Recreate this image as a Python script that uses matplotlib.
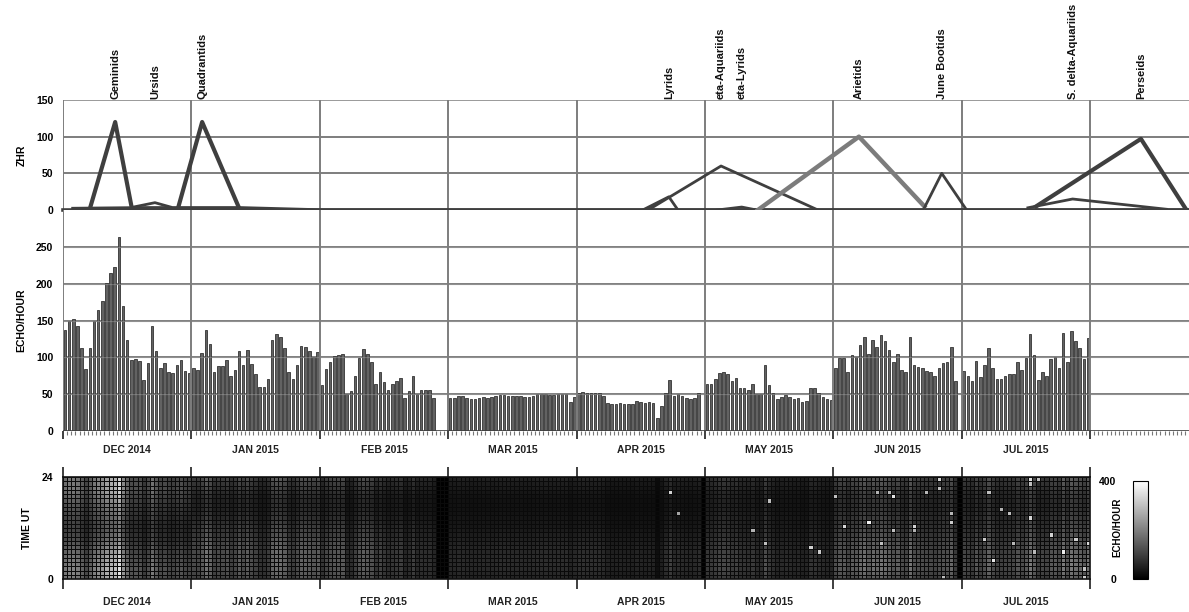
import numpy as np
import matplotlib.pyplot as plt
from matplotlib.transforms import blended_transform_factory

plt.rcParams['font.family'] = ['Liberation Sans', 'DejaVu Sans']
plt.rcParams['font.weight'] = 'bold'

# ---------- data ----------
MONTHS = ["DEC 2014", "JAN 2015", "FEB 2015", "MAR 2015",
          "APR 2015", "MAY 2015", "JUN 2015", "JUL 2015"]

# daily echo rate (echo/hour), one list per month
echo_dec = [137, 150, 152, 143, 113, 84, 113, 149, 164, 177, 201, 215, 222, 264, 170, 124,
            96, 98, 95, 69, 92, 142, 109, 86, 92, 80, 79, 90, 97, 82, 79]
echo_jan = [86, 83, 106, 137, 118, 80, 88, 88, 97, 75, 83, 109, 90, 110, 91, 77,
            60, 60, 71, 123, 131, 128, 113, 80, 71, 90, 115, 114, 109, 101, 107]
echo_feb = [63, 84, 94, 102, 103, 104, 50, 54, 75, 99, 111, 104, 94, 64, 80, 66,
            56, 64, 68, 72, 45, 54, 74, 50, 56, 55, 55, 45]
echo_mar = [45, 45, 47, 47, 45, 44, 44, 45, 46, 45, 46, 47, 49, 49, 48, 48,
            47, 47, 46, 46, 48, 50, 50, 50, 49, 49, 50, 50, 50, 40, 46]
echo_apr = [52, 53, 52, 52, 52, 51, 47, 38, 37, 37, 38, 37, 37, 37, 41, 40,
            38, 40, 38, 17, 34, 51, 69, 47, 50, 47, 45, 43, 45, 51]
echo_may = [64, 64, 70, 79, 80, 78, 68, 72, 59, 59, 55, 64, 50, 50, 89, 63,
            52, 43, 46, 49, 46, 43, 45, 40, 41, 58, 58, 51, 46, 43, 42]
echo_jun = [85, 99, 99, 80, 103, 101, 117, 128, 104, 123, 114, 130, 122, 110, 94, 104,
            83, 80, 128, 90, 87, 85, 82, 80, 75, 86, 92, 93, 114, 68]
echo_jul = [82, 75, 68, 95, 73, 90, 113, 85, 71, 71, 75, 77, 78, 94, 83, 99,
            132, 103, 69, 80, 75, 98, 100, 85, 133, 94, 136, 122, 113, 98, 126]
ECHO = [echo_dec, echo_jan, echo_feb, echo_mar, echo_apr, echo_may, echo_jun, echo_jul]

# relative diurnal shape of the hourly rate (hour 0..23), read per month
diurnal_dec = [1.3, 1.35, 1.35, 1.3, 1.25, 1.2, 1.1, 1.0, 0.9, 0.8, 0.75, 0.7,
               0.7, 0.7, 0.75, 0.8, 0.85, 0.9, 1.0, 1.1, 1.2, 1.25, 1.25, 1.25]
diurnal_jan = [1.2, 1.25, 1.3, 1.35, 1.35, 1.3, 1.3, 1.25, 1.2, 1.1, 1.0, 0.95,
               0.9, 0.8, 0.7, 0.65, 0.6, 0.6, 0.6, 0.65, 0.75, 0.85, 0.95, 1.1]
diurnal_spring = [1.2, 1.3, 1.4, 1.45, 1.45, 1.4, 1.35, 1.3, 1.2, 1.1, 1.0, 0.9,
                  0.8, 0.75, 0.7, 0.65, 0.6, 0.6, 0.6, 0.65, 0.75, 0.85, 0.95, 1.1]
diurnal_summer = [1.2, 1.3, 1.4, 1.45, 1.4, 1.35, 1.3, 1.25, 1.2, 1.1, 1.0, 0.95,
                  0.9, 0.85, 0.8, 0.75, 0.7, 0.7, 0.7, 0.75, 0.8, 0.9, 1.0, 1.1]
DIURNAL = [diurnal_dec, diurnal_jan, diurnal_jan, diurnal_spring,
           diurnal_spring, diurnal_summer, diurnal_summer, diurnal_summer]

# isolated bright cells: (day slot, hour, echo/hour)
hot_slot = [146, 148, 166, 169, 170,
            180, 182, 186, 188, 194, 196, 197, 199, 200, 200, 205, 205, 208, 211, 211,
            212, 214, 214,
            222, 223, 224, 226, 228, 229, 233, 233, 233, 234, 235, 238, 241, 244, 246,
            246, 247]
hot_hour = [20, 15, 11, 8, 18,
            7, 6, 19, 12, 13, 20, 8, 20, 19, 11, 12, 11, 20, 23, 21,
            0, 15, 13,
            9, 20, 4, 16, 15, 8, 23, 22, 14, 6, 23, 10, 6, 9, 2,
            0, 8]
hot_val = [330, 260, 280, 300, 300,
           330, 320, 300, 340, 380, 280, 300, 290, 360, 300, 330, 280, 290, 330, 300,
           300, 290, 320,
           320, 300, 360, 280, 300, 290, 350, 300, 340, 290, 300, 330, 370, 320, 300,
           320, 340]

# ZHR of the showers: day slot (0 = 1 Dec 2014, 31 slots per month) and rate
showers = {
    "Geminids": ([6.5, 12.6, 16.6], [2, 120, 3]),
    "Ursids": ([17, 22.2, 26], [4, 10, 4]),
    "Quadrantids": ([27.8, 33.6, 42.5], [3, 120, 3]),
    "Lyrids": ([140, 146.3, 148.5], [0, 18, 0]),
    "eta-Aquariids": ([141.3, 158.9, 182.3], [0, 60, 0]),
    "eta-Lyrids": ([158, 163.9, 167.5], [0, 4, 0]),
    "Arietids": ([167.8, 192.2, 208], [0, 100, 5]),
    "June Bootids": ([208, 212.2, 218.2], [3, 50, 0]),
    "S. delta-Aquariids": ([233, 243.8, 266.5], [3, 15, 1]),
    "Perseids": ([235, 260.3, 271.3], [5, 97, 0]),
}
background_days = [2.4, 20, 42.5, 62, 271.8]
background_zhr = [2, 3, 3, 0, 0]

# ---------- layout ----------
W, H = 1189, 612
SLOT = 1027.0 / 248  # pixels per day slot
NM = len(MONTHS)
month_edges = np.arange(NM + 1) * 31
month_mid = np.arange(NM) * 31 + 15.5
xmax = (W - 63) / SLOT

fig = plt.figure(figsize=(W / 100, H / 100), dpi=100)
ax_z = fig.add_axes([63 / W, 1 - 210 / H, (W - 63) / W, 110 / H])
ax_b = fig.add_axes([63 / W, 1 - 431 / H, (W - 63) / W, 221 / H])
ax_h = fig.add_axes([63 / W, 1 - 579 / H, 1027 / W, 102 / H])
cax = fig.add_axes([1133 / W, 1 - 579 / H, 15 / W, 98 / H])

GRID = '#7d7d7d'
DARK = '#3f3f3f'

# ---------- ZHR panel ----------
for a in (ax_z, ax_b):
    a.set_xlim(0, xmax)
    for s in a.spines.values():
        s.set_visible(False)
    for x in month_edges:
        a.axvline(x, color=GRID, lw=1.4, zorder=4)

ax_z.set_ylim(0, 150)
for y in (50, 100):
    ax_z.axhline(y, color=GRID, lw=1.4, zorder=1)
ax_z.axhline(150, color='#9a9a9a', lw=1.4, zorder=1)
ax_z.plot([0, xmax], [0, 0], color=DARK, lw=2.6, zorder=5, clip_on=False)
ax_z.plot(background_days, background_zhr, color=DARK, lw=2.4, zorder=5, clip_on=False)
for name, (xs, zs) in showers.items():
    if name == "Arietids":
        ax_z.plot(xs, zs, color='#7c7c7c', lw=3.2, zorder=6, clip_on=False)
    else:
        lw = 3.0 if max(zs) >= 90 else 2.0
        ax_z.plot(xs, zs, color=DARK, lw=lw, zorder=6, clip_on=False)
    ax_z.text(xs[1], 152, name, rotation=90, ha='center', va='bottom',
              fontsize=8, fontweight='bold', color='#111111')
ax_z.set_xticks([])
ax_z.set_yticks([0, 50, 100, 150])
ax_z.tick_params(axis='y', length=0, pad=7, labelsize=7.5)
ax_z.set_ylabel("ZHR", fontsize=7.5, fontweight='bold', labelpad=7)

# ---------- echo bar panel ----------
ax_b.set_ylim(0, 300)
for y in (50, 100, 150, 200, 250):
    ax_b.axhline(y, color=GRID, lw=1.4, zorder=1)
for m, vals in enumerate(ECHO):
    xs = m * 31 + np.arange(len(vals)) + 0.5
    ax_b.bar(xs, vals, width=0.62, color='#626262', edgecolor='#333333',
             linewidth=0.6, zorder=2)
ax_b.axhline(0, color=DARK, lw=1.2, zorder=5)
for y in (50, 100, 150, 200, 250):
    ax_b.axhline(y, color='#a0a0a0', lw=0.9, alpha=0.5, zorder=3)
ax_b.set_yticks([0, 50, 100, 150, 200, 250])
ax_b.tick_params(axis='y', length=0, pad=7, labelsize=7.5)
ax_b.set_xticks(month_edges)
ax_b.set_xticklabels([])
ax_b.set_xticks(np.arange(0, int(xmax) + 1), minor=True)
ax_b.tick_params(axis='x', which='major', length=6, width=1.4, color=DARK, direction='out')
ax_b.tick_params(axis='x', which='minor', length=3, width=0.8, color='#777777', direction='out')
tb = blended_transform_factory(ax_b.transData, ax_b.transAxes)
for xm, lab in zip(month_mid, MONTHS):
    ax_b.text(xm, -0.088, lab, transform=tb, ha='center', va='center', fontsize=7.5,
              fontweight='bold', color='#222222')
ax_b.set_ylabel("ECHO/HOUR", fontsize=7.5, fontweight='bold', labelpad=7)

# ---------- hourly heatmap ----------
grid = np.zeros((24, NM * 31))
for m, vals in enumerate(ECHO):
    prof = np.array(DIURNAL[m])
    for d, v in enumerate(vals):
        grid[:, m * 31 + d] = v * prof
for s, h, v in zip(hot_slot, hot_hour, hot_val):
    grid[h, s] = v

mesh = ax_h.pcolormesh(np.arange(NM * 31 + 1), np.arange(25), grid, cmap='gray',
                       vmin=0, vmax=400, edgecolors='#0a0a0a', linewidth=0.45)
ax_h.set_xlim(0, NM * 31)
ax_h.set_ylim(0, 24)
for s in ax_h.spines.values():
    s.set_linewidth(1.2)
    s.set_color('#111111')
ax_h.set_xticks(month_edges)
ax_h.set_xticklabels([])
ax_h.tick_params(axis='x', length=7, width=1.4, color=DARK, direction='out',
                 top=True, bottom=True)
ax_h.set_yticks([0, 24])
ax_h.tick_params(axis='y', length=0, pad=7, labelsize=7.5)
th = blended_transform_factory(ax_h.transData, ax_h.transAxes)
for xm, lab in zip(month_mid, MONTHS):
    ax_h.text(xm, -0.23, lab, transform=th, ha='center', va='center', fontsize=7.5,
              fontweight='bold', color='#222222')
ax_h.set_ylabel("TIME UT", fontsize=7.5, fontweight='bold', labelpad=7)

cb = fig.colorbar(mesh, cax=cax, ticks=[0, 400])
cb.outline.set_linewidth(0.8)
cax.yaxis.set_ticks_position('left')
cax.tick_params(length=0, pad=12, labelsize=7.5)
fig.text(1117 / W, 1 - 527 / H, "ECHO/HOUR", rotation=90, ha='center', va='center',
         fontsize=7, fontweight='bold')

fig.savefig("out.png", dpi=100)
